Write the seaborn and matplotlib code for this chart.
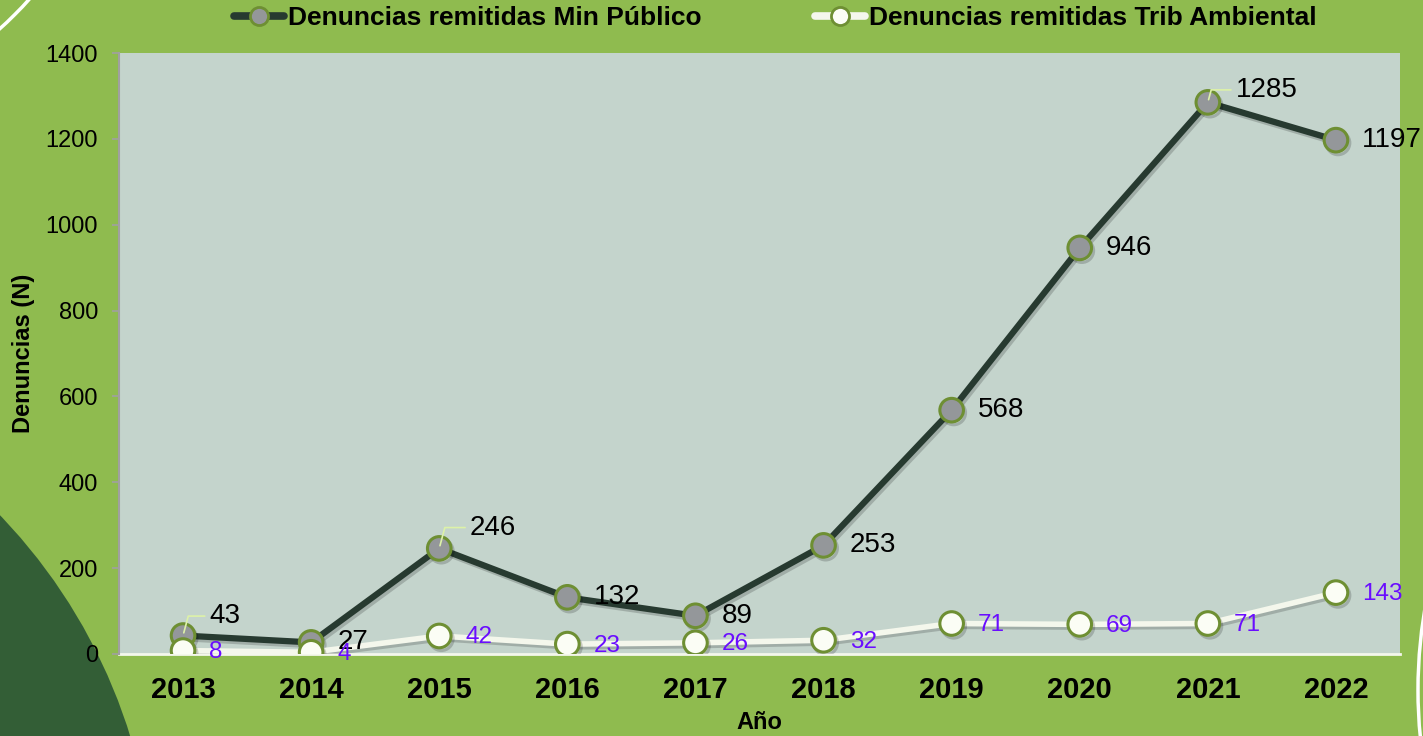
import matplotlib.pyplot as plt
import matplotlib.patheffects as pe
from matplotlib.patches import Ellipse, Arc
from matplotlib.lines import Line2D
import seaborn as sns
import pandas as pd

# datos
anios = [2013, 2014, 2015, 2016, 2017, 2018, 2019, 2020, 2021, 2022]
min_publico = [43, 27, 246, 132, 89, 253, 568, 946, 1285, 1197]
trib_ambiental = [8, 4, 42, 23, 26, 32, 71, 69, 71, 143]
serie_mp = "Denuncias remitidas Min Público"
serie_ta = "Denuncias remitidas Trib Ambiental"

df = pd.DataFrame({"anio": anios, "mp": min_publico, "ta": trib_ambiental})

sns.set_style("white")
plt.rcParams["font.family"] = ["Liberation Sans", "DejaVu Sans"]
plt.rcParams["text.color"] = "black"
plt.rcParams["axes.labelcolor"] = "black"

verde_fondo = "#8FBB4F"
verde_oscuro = "#335E36"
panel = "#C4D4CC"
borde_marker = "#6E8F33"
linea_mp = "#273A30"
linea_ta = "#F4F7EC"
morado = "#6A0DFF"

fig = plt.figure(figsize=(14.23, 7.36), dpi=100)
fig.patch.set_facecolor(verde_fondo)

# adornos de fondo
fig.patches.append(Ellipse((-400 / 1423, 1 - 900 / 736), 2 * 555 / 1423, 2 * 555 / 736,
                           transform=fig.transFigure, facecolor=verde_oscuro,
                           edgecolor="none", zorder=-2))
fig.patches.append(Arc((-300 / 1423, 1 + 300 / 736), 2 * 445 / 1423, 2 * 445 / 736,
                       transform=fig.transFigure, edgecolor="white", lw=2.5, zorder=-2))
fig.patches.append(Arc((1900 / 1423, 1 - 690 / 736), 2 * 482 / 1423, 2 * 482 / 736,
                       transform=fig.transFigure, edgecolor="white", lw=2.5, zorder=-2))

ax = fig.add_axes([119 / 1423, 1 - 654 / 736, 1281 / 1423, 601 / 736])
ax.set_facecolor(panel)

sombra = [pe.SimpleLineShadow(offset=(1.5, -2), alpha=0.18, shadow_color="black"), pe.Normal()]

sns.lineplot(data=df, x="anio", y="mp", ax=ax, color=linea_mp, lw=4.5,
             marker="o", markersize=17, markerfacecolor="#94979A",
             markeredgecolor=borde_marker, markeredgewidth=2.2,
             path_effects=sombra, zorder=3)
sns.lineplot(data=df, x="anio", y="ta", ax=ax, color=linea_ta, lw=4,
             marker="o", markersize=17, markerfacecolor="#FBFDF5",
             markeredgecolor=borde_marker, markeredgewidth=2.2,
             path_effects=sombra, zorder=4)

# etiquetas de datos
elevadas = {2013: (19, 14), 2015: (22, 15), 2021: (20, 9)}
for a, v in zip(anios, min_publico):
    if a in elevadas:
        dx, dy = elevadas[a]
        ax.annotate(str(v), (a, v), xytext=(dx, dy), textcoords="offset points",
                    ha="left", va="center", fontsize=20, color="black", zorder=6,
                    arrowprops=dict(arrowstyle="-", color="#DDF2A8", lw=1.2,
                                    shrinkA=1, shrinkB=2,
                                    connectionstyle="angle,angleA=180,angleB=75,rad=0"))
    else:
        ax.annotate(str(v), (a, v), xytext=(19, 0), textcoords="offset points",
                    ha="left", va="center", fontsize=20, color="black", zorder=6)

for a, v in zip(anios, trib_ambiental):
    ax.annotate(str(v), (a, v), xytext=(19, -1), textcoords="offset points",
                ha="left", va="center", fontsize=17.5, color=morado, zorder=6)

# ejes
ax.set_xlim(2012.5, 2022.5)
ax.set_ylim(0, 1400)
ax.set_yticks(range(0, 1401, 200))
ax.set_xticks(anios)
ax.set_xticks([2012.5 + k for k in range(11)], minor=True)
ax.tick_params(axis="x", which="major", length=0, pad=16, labelsize=21, labelcolor="black")
ax.tick_params(axis="x", which="minor", length=5, direction="in", color="#F4F7EC", width=1)
ax.tick_params(axis="y", length=5, direction="out", color="#A0A0A0", width=1.2,
               labelsize=17, pad=10, left=True, labelcolor="black")
for lab in ax.get_xticklabels():
    lab.set_fontweight("bold")

for lado in ["top", "right"]:
    ax.spines[lado].set_visible(False)
ax.spines["left"].set_color("#A0A0A0")
ax.spines["left"].set_linewidth(1.5)
ax.spines["bottom"].set_color("#F4F7EC")
ax.spines["bottom"].set_linewidth(2)
ax.spines["left"].set_zorder(7)
ax.spines["bottom"].set_zorder(2)

ax.set_xlabel("Año", fontsize=17, fontweight="bold", labelpad=5)
ax.set_ylabel("Denuncias (N)", fontsize=17, fontweight="bold", labelpad=8)

# leyenda
handles = [
    Line2D([], [], color=linea_mp, lw=5.5, solid_capstyle="round", marker="o",
           markersize=13, markerfacecolor="#94979A", markeredgecolor=borde_marker,
           markeredgewidth=2),
    Line2D([], [], color=linea_ta, lw=5.5, solid_capstyle="round", marker="o",
           markersize=13, markerfacecolor="#FBFDF5", markeredgecolor=borde_marker,
           markeredgewidth=2),
]
fig.legend(handles, [serie_mp, serie_ta], loc="center", bbox_to_anchor=(0.545, 0.975),
           ncol=2, frameon=False, handlelength=1.9, handletextpad=0.15,
           columnspacing=4.3, prop={"weight": "bold", "size": 19})

fig.savefig("out.png", dpi=100, facecolor=fig.get_facecolor())
